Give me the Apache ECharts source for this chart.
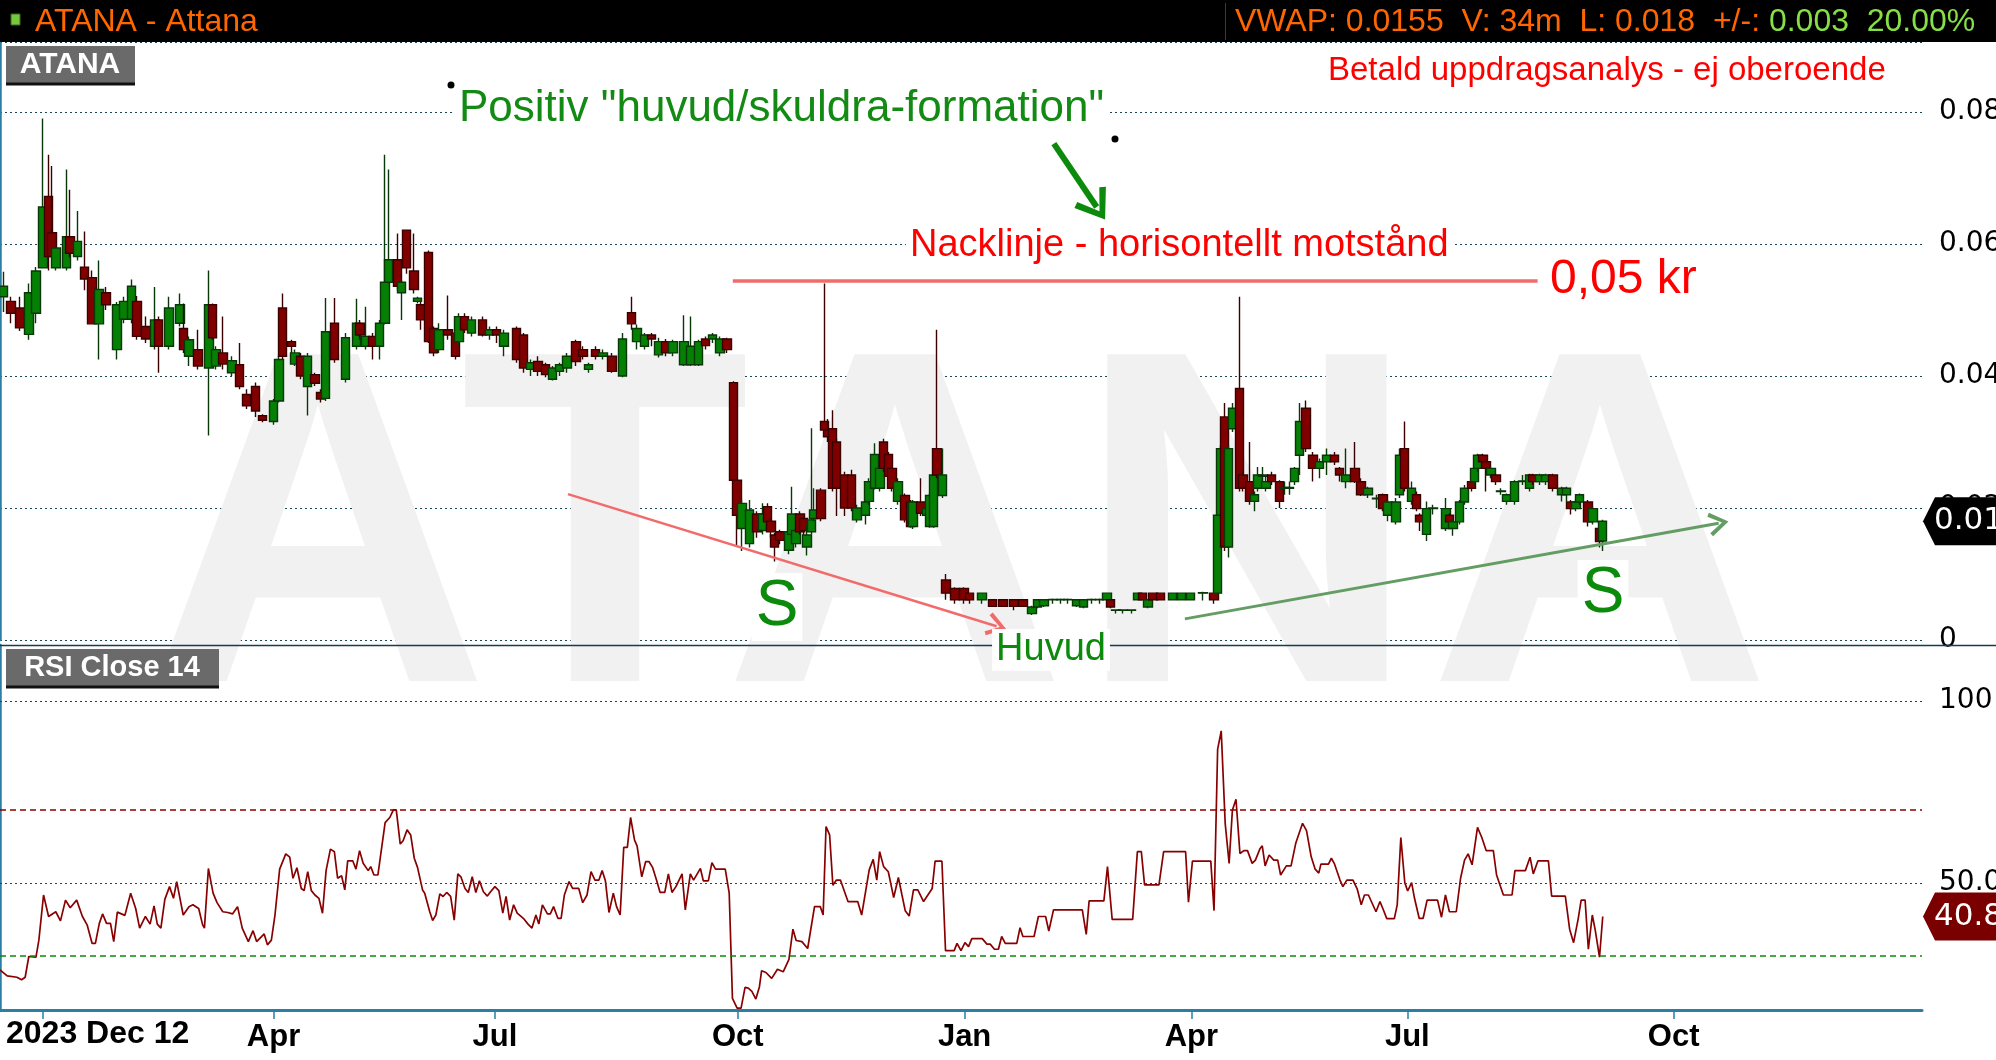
<!DOCTYPE html>
<html><head><meta charset="utf-8">
<script src="https://cdn.jsdelivr.net/npm/echarts@6/dist/echarts.min.js"></script>
<style>html,body{margin:0;padding:0;background:#fff;overflow:hidden}#c{width:1996px;height:1060px}</style>
</head><body><div id="c"></div>
<script>
// ---- DATA (trading-day index, open, close, low, high) ----
const candles = [
[1,.0520,.0536,.0497,.0558],[3,.0513,.0495,.0480,.0520],[5.5,.0503,.0473,.0468,.0520],[8,.0463,.0526,.0455,.0540],
[10,.0495,.0559,.0480,.0565],[12,.0564,.0656,.0564,.0790],[13.5,.0672,.0581,.0560,.0735],[14.5,.0617,.0581,.0580,.0718],
[15.5,.0564,.0594,.0560,.0600],[18.5,.0564,.0611,.0560,.0713],[19.5,.0611,.0586,.0580,.0682],[21.5,.0581,.0604,.0575,.0650],
[23.5,.0565,.0547,.0530,.0619],[25.5,.0549,.0479,.0479,.0560],[27.5,.0479,.0531,.0425,.0575],[29.5,.0526,.0508,.0500,.0535],
[32.5,.0440,.0508,.0425,.0512],[34.5,.0486,.0513,.0480,.0520],[36.5,.0486,.0536,.0480,.0546],[38,.0513,.0460,.0455,.0521],
[40.5,.0475,.0456,.0450,.0490],[43,.0445,.0485,.0440,.0535],[44,.0485,.0445,.0405,.0490],[47,.0445,.0503,.0440,.0520],
[50,.0480,.0508,.0475,.0525],[51,.0472,.0440,.0435,.0510],[52.5,.0430,.0455,.0415,.0460],[55,.0440,.0415,.0410,.0470],
[58,.0412,.0508,.0310,.0560],[59,.0508,.0458,.0455,.0510],[60,.0415,.0440,.0410,.0445],[62,.0435,.0418,.0410,.0490],
[64.5,.0405,.0423,.0400,.0430],[66.5,.0417,.0384,.0380,.0450],[68.5,.0372,.0355,.0350,.0380],[71,.0384,.0347,.0338,.0390],
[73,.0340,.0333,.0330,.0342],[76,.0331,.0362,.0326,.0365],[77.5,.0362,.0425,.0360,.0430],[78.5,.0503,.0430,.0425,.0525],
[81,.0452,.0445,.0420,.0455],[82,.0418,.0435,.0415,.0440],[83.5,.0430,.0400,.0395,.0435],[85.5,.0384,.0430,.0340,.0435],
[87.5,.0402,.0389,.0385,.0405],[89,.0375,.0365,.0360,.0380],[90.5,.0366,.0467,.0362,.0518],[93,.0480,.0425,.0420,.0518],
[96,.0395,.0458,.0390,.0465],[99,.0445,.0480,.0440,.0517],[100,.0480,.0462,.0455,.0485],[101.5,.0445,.0460,.0440,.0505],
[103.5,.0460,.0445,.0425,.0465],[105.5,.0445,.0480,.0425,.0485],[107,.0480,.0542,.0478,.0735],[108,.0542,.0576,.0540,.0713],
[110.5,.0576,.0536,.0530,.0616],[111.5,.0526,.0542,.0485,.0545],[113,.0621,.0564,.0555,.0621],[115,.0559,.0531,.0525,.0616],
[116,.0513,.0518,.0510,.0520],[117,.0508,.0485,.0470,.0512],[119,.0587,.0452,.0450,.0590],[120.5,.0472,.0435,.0430,.0475],
[122,.0440,.0470,.0435,.0480],[124.5,.0470,.0462,.0455,.0522],[126.5,.0465,.0430,.0425,.0470],[127.5,.0452,.0490,.0445,.0495],
[129,.0490,.0470,.0465,.0495],[131,.0465,.0485,.0460,.0490],[134,.0485,.0462,.0460,.0490],[136,.0462,.0470,.0455,.0475],
[138,.0470,.0462,.0450,.0475],[140,.0445,.0465,.0430,.0470],[143.5,.0472,.0425,.0420,.0475],[145.5,.0462,.0412,.0405,.0465],
[147.5,.0410,.0420,.0400,.0425],[149.5,.0422,.0407,.0400,.0430],[151.5,.0417,.0402,.0398,.0420],[153.5,.0395,.0412,.0393,.0415],
[155.5,.0407,.0417,.0400,.0420],[157.5,.0412,.0430,.0405,.0435],[160,.0452,.0422,.0415,.0455],[162,.0440,.0430,.0425,.0445],
[163.5,.0410,.0417,.0405,.0420],[165.5,.0440,.0430,.0425,.0445],[167.5,.0430,.0435,.0425,.0440],[170,.0430,.0407,.0405,.0435],
[173,.0400,.0456,.0398,.0465],[175.5,.0496,.0479,.0470,.0520],[177,.0452,.0472,.0440,.0478],[179,.0445,.0462,.0440,.0465],
[181,.0462,.0456,.0445,.0465],[183,.0432,.0452,.0428,.0458],[185,.0452,.0435,.0430,.0456],[187,.0435,.0452,.0430,.0455],
[190,.0417,.0452,.0415,.0492],[192,.0417,.0445,.0415,.0490],[194,.0417,.0452,.0415,.0455],[196,.0456,.0446,.0440,.0460],
[198,.0456,.0462,.0450,.0465],[200,.0435,.0456,.0430,.0460],[202,.0456,.0440,.0435,.0458],
[203.8,.0390,.0242,.0240,.0392],[204.8,.0242,.0189,.0144,.0243],[206.1,.0169,.0207,.0135,.0212],[208.3,.0146,.0197,.0140,.0212],
[210.3,.0191,.0164,.0155,.0195],[211.8,.0166,.0191,.0160,.0207],[213.3,.0202,.0179,.0170,.0207],[214.2,.0180,.0164,.0155,.0183],
[215.2,.0159,.0141,.0119,.0162],[216.7,.0164,.0151,.0145,.0167],[219.2,.0136,.0164,.0130,.0168],[220,.0160,.0191,.0155,.0232],
[221.2,.0146,.0166,.0140,.0170],[222.2,.0191,.0164,.0160,.0195],[223.2,.0184,.0166,.0150,.0186],[224.2,.0141,.0159,.0128,.0175],
[225.4,.0164,.0182,.0160,.0321],[226,.0184,.0197,.0180,.0230],[228.1,.0227,.0184,.0180,.0230],[229.1,.0331,.0318,.0310,.0540],
[230.1,.0318,.0308,.0300,.0335],[231.3,.0320,.0230,.0225,.0348],[232.4,.0300,.0230,.0188,.0305],[234.6,.0250,.0200,.0188,.0255],
[236.6,.0250,.0200,.0195,.0258],[238.1,.0182,.0200,.0178,.0205],[240.5,.0189,.0209,.0175,.0215],[241.5,.0210,.0240,.0205,.0245],
[243,.0230,.0281,.0228,.0298],[244.5,.0230,.0260,.0225,.0265],[245.5,.0300,.0260,.0255,.0305],[246.8,.0281,.0248,.0245,.0285],
[247.8,.0260,.0230,.0225,.0262],[249.5,.0210,.0240,.0205,.0245],[251.4,.0219,.0182,.0178,.0222],[253,.0209,.0172,.0170,.0212],
[253.7,.0172,.0209,.0168,.0212],[255.9,.0209,.0192,.0188,.0245],[257.4,.0189,.0199,.0185,.0202],[258.4,.0172,.0219,.0170,.0222],
[259.4,.0172,.0250,.0170,.0252],[260.4,.0290,.0250,.0245,.0470],[261.9,.0219,.0250,.0215,.0290],
[262.9,.0091,.0071,.0061,.0100],[265.3,.0078,.0061,.0055,.0080],[267.8,.0078,.0061,.0055,.0080],[269.3,.0071,.0061,.0055,.0072],
[272.8,.0061,.0071,.0055,.0072],[275.8,.0061,.0051,.0050,.0062],[278.7,.0061,.0051,.0050,.0062],[281.7,.0061,.0051,.0045,.0062],
[284.2,.0061,.0051,.0050,.0062],[286.7,.0040,.0050,.0038,.0052],[288.2,.0050,.0061,.0048,.0062],[290.1,.0052,.0061,.0050,.0062],
[292.6,.0061,.00615,.0055,.0063],[294.6,.0061,.00615,.0055,.0063],[296.6,.0061,.00615,.0055,.0063],[299.1,.0052,.0061,.0050,.0062],
[301.1,.0050,.0061,.0048,.0062],[303.2,.0061,.00615,.0055,.0063],[305.5,.0061,.00615,.0055,.0063],[307.5,.0061,.0071,.0060,.0072],
[308.5,.0061,.0050,.0048,.0062],[310,.0045,.00455,.0040,.0046],[312,.0045,.00455,.0040,.0046],[314.4,.0045,.00455,.0040,.0046],
[316,.0061,.0071,.0060,.0072],[317.4,.0071,.0061,.0060,.0072],[318.9,.0050,.0061,.0048,.0062],[320.4,.0071,.0061,.0060,.0072],
[322.4,.0071,.0061,.0060,.0072],[325.8,.0061,.0071,.0060,.0072],[328.3,.0061,.0071,.0060,.0072],[330.8,.0061,.0071,.0060,.0072],
[334.3,.0071,.00715,.0060,.0073],[337.3,.0071,.0061,.0055,.0072],[338.3,.0071,.0189,.0065,.0190],[339.2,.0189,.0290,.0185,.0295],
[340.2,.0338,.0141,.0135,.0359],[341.3,.0141,.0290,.0125,.0295],[342.5,.0320,.0351,.0315,.0359],[344.4,.0381,.0230,.0225,.0520],
[345.3,.0250,.0230,.0225,.0255],[347.2,.0240,.0210,.0205,.0300],[348.6,.0210,.0220,.0195,.0225],[349.5,.0230,.0250,.0225,.0262],
[350.9,.0248,.0250,.0240,.0262],[351.8,.0230,.0240,.0225,.0250],[353.2,.0250,.0240,.0235,.0255],[355.5,.0240,.0210,.0200,.0242],
[356.9,.0230,.0231,.0220,.0240],[358.3,.0230,.0231,.0220,.0240],[359.7,.0240,.0260,.0235,.0262],[361.1,.0280,.0331,.0250,.0359],
[362.9,.0351,.0290,.0285,.0363],[364.8,.0280,.0260,.0240,.0285],[366.6,.0260,.0270,.0245,.0275],[368.5,.0270,.0280,.0250,.0290],
[370.8,.0280,.0270,.0265,.0285],[372.2,.0260,.0250,.0240,.0262],[374,.0240,.0250,.0230,.0290],[376.4,.0260,.0240,.0238,.0300],
[378.2,.0240,.0220,.0218,.0245],[380.1,.0220,.0230,.0215,.0232],[382.4,.0214,.0215,.0200,.0220],[384.2,.0220,.0199,.0195,.0222],
[385.6,.0189,.0209,.0180,.0212],[387.9,.0179,.0209,.0175,.0215],[388.9,.0220,.0280,.0215,.0290],[390.2,.0290,.0230,.0225,.0331],
[392.1,.0210,.0230,.0205,.0240],[393.5,.0220,.0199,.0195,.0225],[394.4,.0189,.0179,.0165,.0192],[396.3,.0160,.0199,.0150,.0210],
[398.1,.0199,.0200,.0190,.0205],[401.8,.0169,.0199,.0165,.0215],[402.7,.0189,.0179,.0175,.0192],[403.7,.0169,.0179,.0158,.0182],
[405.5,.0179,.0209,.0175,.0212],[406.9,.0209,.0230,.0205,.0235],[408.8,.0240,.0230,.0225,.0250],[409.7,.0240,.0260,.0235,.0262],
[410.6,.0260,.0280,.0255,.0282],[412,.0280,.0270,.0265,.0282],[412.9,.0270,.0260,.0225,.0272],[414.3,.0250,.0260,.0245,.0262],
[415.7,.0250,.0240,.0235,.0252],[417.1,.0225,.0226,.0220,.0230],[418.5,.0210,.0220,.0205,.0222],[420.8,.0210,.0240,.0205,.0242],
[423.1,.0240,.0241,.0235,.0250],[425,.0230,.0250,.0225,.0252],[425.9,.0250,.0240,.0235,.0252],[427.7,.0240,.0250,.0235,.0252],
[429.6,.0240,.0250,.0235,.0252],[431.5,.0250,.0230,.0225,.0252],[433.8,.0220,.0230,.0210,.0232],[435.2,.0220,.0230,.0210,.0232],
[436.5,.0209,.0199,.0190,.0212],[437.9,.0199,.0209,.0195,.0212],[438.9,.0209,.0220,.0205,.0222],[441.2,.0209,.0179,.0172,.0212],
[442.6,.0179,.0199,.0175,.0202],[444.4,.0169,.0149,.0140,.0172],[445.3,.0150,.0180,.0135,.0182]
];
// RSI(14) on close: [trading-day index, value]
const rsiPoints = [
[0,26.1],[2,24.5],[4.7,24.1],[6,23.4],[7,24.1],[8,29.8],[10,29.6],[10.8,34.3],[12.1,46.7],[13.5,40.8],[15.5,42.1],[16.8,39.6],
[18.2,45.3],[19.5,43.2],[21.3,45.3],[22.9,40.8],[24.2,38.5],[25.6,33.4],[26.5,33.4],[27.6,38.9],[28.5,41.5],[29.6,38.9],[30.7,38.9],
[31.6,33.9],[32.6,42.0],[34.7,41.1],[36.3,47.2],[37.7,43.0],[38.8,37.6],[40.4,40.8],[41.7,38.7],[42.8,43.7],[43.7,38.7],[44.7,37.6],
[45.8,45.5],[47.1,49.0],[48.2,45.8],[49.1,50.4],[50.9,41.2],[52.5,43.5],[53.6,44.0],[55.2,43.0],[56.3,38.5],[56.8,37.6],[57.9,54.0],
[59.2,47.2],[60.3,44.6],[61.9,42.1],[63.3,41.9],[64.6,41.5],[66,43.5],[67.3,37.6],[69,33.9],[70.3,36.9],[71.3,33.9],[73.4,36.0],
[74.3,33.0],[75.4,34.3],[76.4,41.2],[77.7,53.8],[79.4,58.0],[80.5,57.1],[81.4,51.3],[82.5,54.2],[83.7,48.5],[84.5,47.9],[85.5,53.1],
[86.5,47.9],[87.5,46.7],[88.6,45.8],[89.6,41.7],[90.6,53.4],[91.8,59.3],[92.9,58.6],[93.8,51.3],[94.9,52.0],[95.8,48.1],[96.6,56.1],
[98,56.1],[98.9,53.8],[99.9,58.9],[100.9,55.4],[102.3,53.4],[103,54.5],[103.9,52.2],[105,52.2],[107,66.6],[108.3,68.0],[109.3,70.1],
[110.1,70.1],[111.2,60.7],[112,61.6],[113.1,64.6],[114.1,63.2],[115.1,56.8],[116,54.3],[117.4,48.1],[118,47.2],[119.4,42.1],
[120.2,39.7],[121.1,41.2],[122.2,47.0],[123.1,46.3],[124.1,47.4],[125.2,46.3],[126.2,39.8],[127.2,52.5],[128.1,51.6],[129.2,48.5],
[130.1,47.4],[131.2,51.7],[132.2,47.4],[133.2,50.6],[134.3,47.6],[135.4,46.4],[136.3,47.6],[137.5,49.0],[138.6,47.9],[139.7,41.7],
[140.6,46.3],[141.6,39.8],[142.7,44.0],[143.7,41.7],[145.4,40.3],[146.7,38.7],[147.8,37.6],[148.9,41.2],[149.7,38.7],[150.7,44.0],
[152.1,41.5],[152.9,41.5],[153.8,43.5],[155,40.3],[155.9,40.3],[156.8,46.7],[158.1,50.4],[159.1,48.5],[160.8,48.5],[161.9,44.6],
[163.1,46.7],[164.2,53.1],[165.3,50.8],[166.4,50.8],[167.3,53.4],[168.2,50.6],[169.2,41.9],[170.4,47.2],[171.3,43.5],[172.3,41.2],
[173.3,59.8],[174.3,59.8],[175.2,68.0],[176.3,61.8],[177,60.2],[178.3,51.7],[179.4,55.9],[180.3,55.9],[181.3,54.3],[182.4,50.8],
[183.4,47.4],[184.7,47.4],[185.7,52.5],[186.7,47.4],[187.8,49.0],[189.5,52.5],[190.4,42.6],[191.8,52.5],[192.7,50.8],[194.6,54.0],
[195.4,50.6],[196.8,50.6],[197.8,55.6],[198.8,53.8],[201.5,53.8],[202.6,47.2],[203.5,18.3],[204.8,15.6],[205.9,15.6],[207,21.3],
[207.9,21.1],[208.9,20.2],[210,18.1],[211,21.5],[211.6,25.9],[212.8,25.4],[214.4,23.8],[216,26.3],[217.6,25.6],[219.2,29.0],
[220.3,37.3],[221.2,34.2],[222.8,33.9],[224.4,32.0],[226.3,43.5],[227.9,43.5],[228.7,41.2],[229.5,65.5],[230.5,63.2],[231.4,49.4],
[232.4,50.8],[233.5,50.8],[235.6,44.9],[238.3,44.9],[239.4,41.2],[241.5,53.6],[242.6,56.5],[243.6,50.8],[244.4,58.6],[245.5,54.5],
[246.8,53.1],[248.3,46.0],[249.6,51.5],[250.6,46.7],[251.5,42.4],[252.6,40.9],[253.8,48.1],[255,48.1],[256.6,44.9],[259,48.5],
[259.8,56.0],[261.7,56.0],[262.7,31.4],[265.1,31.4],[265.9,33.4],[267,31.4],[268.1,33.6],[269.1,32.5],[270,34.7],[272.9,34.7],
[274.2,33.2],[275.1,33.2],[276.3,31.8],[277.4,31.8],[278.3,35.3],[279.3,33.4],[282.5,33.4],[283.4,37.7],[284.2,35.3],[287.3,35.3],
[288.5,40.8],[290.5,40.8],[291.4,36.8],[292.7,42.6],[300.7,42.6],[301.8,35.9],[302.6,45.1],[306.7,45.1],[307.7,54.5],[309,40.0],
[314.7,40.0],[316,58.6],[317.1,58.6],[318,49.5],[322,49.5],[323.3,58.6],[329.4,58.6],[330.2,44.7],[331.3,56.0],[336.4,56.0],
[337.3,42.4],[338.3,86.7],[339.3,91.8],[340.4,66.4],[341.5,55.4],[342.4,70.0],[343.4,73.0],[344.5,58.1],[345.6,58.9],[346.6,58.9],
[347.9,55.4],[348.8,56.3],[350.1,59.5],[350.7,60.2],[351.5,54.7],[352.6,57.7],[353.9,56.3],[355,56.3],[355.8,52.2],[357.4,54.7],
[358.7,54.7],[360,60.9],[361.9,66.4],[363,64.4],[364.3,57.2],[365.4,53.8],[366.4,52.7],[367,55.2],[369.1,55.2],[369.9,56.8],
[370.7,55.4],[372.3,50.8],[373.1,49.0],[374.2,50.8],[375.9,50.8],[377.1,48.3],[378.2,44.0],[379.1,46.7],[380.2,46.7],[382.3,42.1],
[383.4,44.9],[384.2,43.0],[385.3,40.2],[387.4,40.2],[388.2,44.0],[389.2,62.5],[390.3,50.1],[391.1,47.8],[392.2,50.1],[393,45.8],
[394.3,40.3],[395.4,40.3],[396.5,45.3],[399.4,45.3],[400.5,40.6],[401.6,46.7],[402.7,42.1],[404.6,42.1],[405.8,51.3],[406.9,56.3],
[407.9,58.0],[409,55.0],[410.5,65.3],[411.7,62.5],[412.9,58.9],[414.9,58.9],[415.8,52.2],[417.7,46.7],[420.1,46.7],[420.9,53.4],
[423.8,53.4],[425.1,57.1],[426,52.5],[427.3,56.1],[430.2,56.1],[431.1,46.4],[434.9,46.4],[436.1,37.3],[437.2,33.6],[438.5,40.3],
[439.3,45.3],[440.4,45.3],[441.3,31.8],[442.4,41.2],[443.2,37.1],[444.4,29.6],[445.3,40.8]
];
const priceTickLabels = ['0','0.02','0.04','0.06','0.08'];
const rsiLevels = [100, 70, 50, 30];
const rsiLabelValues = [50, 100];
const rsiLabelText = {50: '50.0', 100: '100'};
const xTickDays = [12, 76, 137.5, 205, 268, 331, 391, 465];
const xTickLabels = ['2023 Dec 12', 'Apr', 'Jul', 'Oct', 'Jan', 'Apr', 'Jul', 'Oct'];
const neckline = [[203.6, 0.0544], [427.2, 0.0544]];
const headArrow = [[157.8, 0.0221], [276.9, 0.0021]];
const shoulderArrow = [[329.2, 0.0032], [477.5, 0.0177]];
const titleArrow = [[292.8, 0.0752], [304.7, 0.0656]];
const lastClose = 0.018, lastCloseText = '0.018';
const lastRsi = 40.8, lastRsiText = '40.8';
const headerLeft = 'ATANA - Attana';
const headerRightA = 'VWAP: 0.0155  V: 34m  L: 0.018  +/-: ';
const headerRightB = '0.003  20.00%';
const watermarkLetters = ['A', 'T', 'A', 'N', 'A'];

// ---- CHART ----
const FONT = "'Liberation Sans', Arial, sans-serif";
const AXFONT = "'DejaVu Sans', Verdana, sans-serif";
const TEAL = '#2b7ea4';
const GRIDC = '#1b4656';
const GREEN = '#0b8a0b';
const chevron = 'path://M0,16 L10,0 L20,16 L17,18 L10,6 L3,18 Z';

const chart = echarts.init(document.getElementById('c'), null, {width: 1996, height: 1060});
const option = {
  animation: false,
  backgroundColor: '#ffffff',
  grid: [
    {left: 0, top: 42, width: 1922, height: 598, containLabel: false, outerBoundsMode: 'none'},
    {left: 0, top: 645, width: 1922, height: 365, containLabel: false, outerBoundsMode: 'none'}
  ],
  xAxis: [
    {gridIndex: 0, type: 'value', min: 0, max: 534, show: false},
    {gridIndex: 1, type: 'value', min: 0, max: 534,
      axisLine: {show: true, lineStyle: {color: TEAL, width: 3}},
      axisTick: {show: true, customValues: xTickDays, length: 9, lineStyle: {color: TEAL, width: 1.5}},
      axisLabel: {show: true, customValues: xTickDays.slice(1), margin: 12,
        formatter: v => { const i = xTickDays.indexOf(v); return i >= 0 ? xTickLabels[i] : ''; },
        fontFamily: FONT, fontWeight: 'bold', fontSize: 31, color: '#000'},
      splitLine: {show: false}}
  ],
  yAxis: [
    {gridIndex: 0, type: 'value', min: 0, max: 0.0906, interval: 0.02, position: 'right',
      axisLine: {show: true, lineStyle: {color: TEAL, width: 2.5}},
      axisTick: {show: false},
      axisLabel: {margin: 17, fontFamily: AXFONT, fontSize: 28, color: '#000', showMaxLabel: false,
        formatter: v => priceTickLabels[Math.round(v / 0.02)] || ''},
      splitLine: {show: true, lineStyle: {color: GRIDC, width: 1, type: [2, 3]}}},
    {gridIndex: 1, type: 'value', min: 15.1, max: 115.4, position: 'right',
      axisLine: {show: true, lineStyle: {color: TEAL, width: 2.5}},
      axisTick: {show: false},
      axisLabel: {customValues: rsiLabelValues, margin: 17, fontFamily: AXFONT, fontSize: 28, color: '#000',
        formatter: v => rsiLabelText[v] || ''},
      splitLine: {show: false}}
  ],
  series: [
    {type: 'candlestick', xAxisIndex: 0, yAxisIndex: 0, z: 3, barWidth: 9,
      data: candles.map(r => [r[0], r[1], r[2], r[3], r[4]]),
      itemStyle: {color: '#058005', color0: '#800000', borderColor: '#083808', borderColor0: '#3a0000',
        borderColorDoji: '#111', borderWidth: 1.4}},
    {type: 'line', xAxisIndex: 0, yAxisIndex: 0, z: 4, data: neckline, showSymbol: false, silent: true,
      color: '#f26b6b', lineStyle: {color: '#f26b6b', width: 3.5},
      markLine: {silent: true, animation: false, label: {show: false}, symbol: ['none', chevron],
        data: [
          [{coord: headArrow[0], symbol: 'none', lineStyle: {color: '#f26b6b', width: 2.6, type: 'solid'}},
           {coord: headArrow[1], symbol: chevron, symbolSize: [24, 20], itemStyle: {color: '#f26b6b'}}],
          [{coord: shoulderArrow[0], symbol: 'none', lineStyle: {color: '#639d63', width: 3, type: 'solid'}},
           {coord: shoulderArrow[1], symbol: chevron, symbolSize: [24, 20], itemStyle: {color: '#639d63'}}],
          [{coord: titleArrow[0], symbol: 'none', lineStyle: {color: GREEN, width: 6, type: 'solid'}},
           {coord: titleArrow[1], symbol: chevron, symbolSize: [38, 30], itemStyle: {color: GREEN}}]
        ]}},
    {type: 'line', xAxisIndex: 1, yAxisIndex: 1, z: 3, data: rsiPoints, showSymbol: false, silent: true,
      lineStyle: {color: '#880000', width: 1.7},
      markLine: {silent: true, animation: false, symbol: ['none', 'none'], label: {show: false},
        data: rsiLevels.map(v => ({yAxis: v, lineStyle: {
          color: v === 70 ? '#8b0000' : v === 30 ? '#0a8a0a' : GRIDC,
          width: (v === 70 || v === 30) ? 1.6 : 1,
          type: (v === 70 || v === 30) ? [6, 4] : [2, 3]}}))}}
  ]
};
chart.setOption(option);

const yP = chart.convertToPixel({gridIndex: 0}, [0, lastClose])[1];
const yR = chart.convertToPixel({gridIndex: 1}, [0, lastRsi])[1];
function tag(y, fill) {
  return {type: 'polygon', z: 120, shape: {points: [[1923, y], [1935, y - 24], [1996, y - 24], [1996, y + 24], [1935, y + 24]]},
    style: {fill: fill}};
}
function ann(text, x, y, size, fill, align) {
  return {type: 'text', z: 110, x: x, y: y, style: {text: text, font: size + 'px ' + FONT, fill: fill,
    textAlign: align || 'left', textVerticalAlign: 'middle', backgroundColor: '#fff', padding: [2, 4]}};
}
const wmCenters = [318, 605, 895, 1247, 1600];
const graphics = watermarkLetters.map((ch, i) => ({type: 'text', z: 0, silent: true, x: wmCenters[i], y: 550,
    style: {text: ch, font: 'bold 475px ' + FONT, fill: '#f1f1f1', textAlign: 'center', textVerticalAlign: 'middle'}}))
.concat([
  {type: 'rect', z: 100, shape: {x: 0, y: 0, width: 1996, height: 42}, style: {fill: '#000'}},
  {type: 'rect', z: 101, shape: {x: 11, y: 14, width: 9, height: 11}, style: {fill: '#78c83e', stroke: '#3c6b1e', lineWidth: 1}},
  {type: 'text', z: 101, x: 35, y: 22, style: {text: headerLeft, font: '32px ' + FONT, fill: '#ff6600', textVerticalAlign: 'middle'}},
  {type: 'line', z: 101, shape: {x1: 1225.5, y1: 3, x2: 1225.5, y2: 40}, style: {stroke: '#3a3a3a', lineWidth: 1}},
  {type: 'text', z: 101, x: 1235, y: 22, style: {text: '{o|' + headerRightA + '}{g|' + headerRightB + '}',
    font: '32px ' + FONT, textVerticalAlign: 'middle',
    rich: {o: {fill: '#ff6600', font: '32px ' + FONT}, g: {fill: '#86df45', font: '32px ' + FONT}}}},
  {type: 'rect', z: 101, shape: {x: 6, y: 46, width: 129, height: 37}, style: {fill: '#6a6a6a'}},
  {type: 'line', z: 101, shape: {x1: 6, y1: 84, x2: 135, y2: 84}, style: {stroke: '#111', lineWidth: 3}},
  {type: 'text', z: 102, x: 70, y: 65, style: {text: 'ATANA', font: 'bold 30px ' + FONT, fill: '#fff', textAlign: 'center', textVerticalAlign: 'middle'}},
  {type: 'line', z: 101, shape: {x1: 0, y1: 645.5, x2: 1996, y2: 645.5}, style: {stroke: '#173d4c', lineWidth: 1.5}},
  {type: 'rect', z: 101, shape: {x: 6, y: 649, width: 213, height: 37}, style: {fill: '#6a6a6a'}},
  {type: 'line', z: 101, shape: {x1: 6, y1: 687, x2: 219, y2: 687}, style: {stroke: '#111', lineWidth: 3}},
  {type: 'text', z: 102, x: 112, y: 668, style: {text: 'RSI Close 14', font: 'bold 29px ' + FONT, fill: '#fff', textAlign: 'center', textVerticalAlign: 'middle'}},
  ann('Betald uppdragsanalys - ej oberoende', 1324, 71, 33, '#ff0000'),
  ann('Positiv "huvud/skuldra-formation"', 455, 109, 44, '#138a13'),
  {type: 'circle', z: 111, shape: {cx: 451, cy: 85, r: 3.5}, style: {fill: '#000'}},
  {type: 'circle', z: 111, shape: {cx: 1115, cy: 139, r: 3.5}, style: {fill: '#000'}},
  ann('Nacklinje - horisontellt motstånd', 906, 246, 38, '#ff0000'),
  ann('0,05 kr', 1546, 280, 48, '#ff0000'),
  ann('S', 777, 607, 64, GREEN, 'center'),
  ann('S', 1603, 594, 64, GREEN, 'center'),
  ann('Huvud', 1051, 650, 38, GREEN, 'center'),
  {type: 'text', z: 101, x: 6, y: 1034, style: {text: xTickLabels[0], font: 'bold 32px ' + FONT, fill: '#000', textVerticalAlign: 'middle'}},
  tag(yP, '#000'),
  {type: 'text', z: 121, x: 1934, y: yP, style: {text: lastCloseText, font: '31px ' + AXFONT, fill: '#fff', textVerticalAlign: 'middle'}},
  tag(yR, '#7a0000'),
  {type: 'text', z: 121, x: 1934, y: yR, style: {text: lastRsiText, font: '31px ' + AXFONT, fill: '#fff', textVerticalAlign: 'middle'}}
]);
chart.setOption({graphic: graphics});
</script></body></html>
